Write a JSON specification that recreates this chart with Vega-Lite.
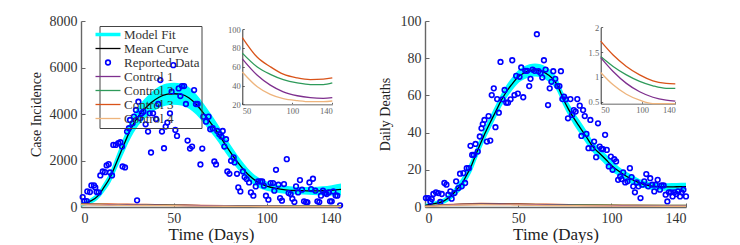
{
"$schema": "https://vega.github.io/schema/vega-lite/v6.json",
"background": "white",
"padding": {"left": 29, "top": 14, "right": 0, "bottom": 0},
"spacing": 32,
"config": {
  "font": "Liberation Serif",
  "view": {"stroke": null},
  "axis": {"grid": false, "labelFont": "Liberation Serif", "titleFont": "Liberation Serif", "labelFontSize": 14, "labelColor": "#333", "titleColor": "#222", "titleFontWeight": "normal", "domainColor": "#666", "domainWidth": 1.4, "tickColor": "#666", "tickSize": -4, "labelPadding": 8, "labelOverlap": false},
  "legend": {"orient": "none", "legendX": 18.5, "legendY": 5, "title": null, "labelFont": "Liberation Serif", "labelFontSize": 13, "labelColor": "#333", "symbolSize": 100, "symbolType": "M-2.5,0H2.5", "strokeColor": "#444", "padding": 2, "rowPadding": -3, "labelOffset": 9.5, "labelLimit": 300}
},
"resolve": {"scale": {"color": "independent"}},
"datasets": {
  "fitL": [
    {"day":0,"mean":100,"lo":20,"hi":180},{"day":5,"mean":250,"lo":130,"hi":370},{"day":9,"mean":470,"lo":320,"hi":620},{"day":12,"mean":800,"lo":600,"hi":1000},{"day":16,"mean":1320,"lo":1070,"hi":1570},{"day":18,"mean":1700,"lo":1420,"hi":1980},{"day":21,"mean":2280,"lo":1960,"hi":2600},{"day":24,"mean":2850,"lo":2500,"hi":3200},{"day":27,"mean":3380,"lo":3000,"hi":3760},{"day":30,"mean":3800,"lo":3400,"hi":4200},{"day":34,"mean":4200,"lo":3770,"hi":4630},{"day":38,"mean":4500,"lo":4050,"hi":4950},{"day":42,"mean":4720,"lo":4260,"hi":5180},{"day":46,"mean":4840,"lo":4370,"hi":5310},{"day":50,"mean":4870,"lo":4400,"hi":5340},{"day":54,"mean":4840,"lo":4370,"hi":5310},{"day":58,"mean":4700,"lo":4240,"hi":5160},{"day":62,"mean":4420,"lo":3980,"hi":4860},{"day":66,"mean":4030,"lo":3610,"hi":4450},{"day":70,"mean":3600,"lo":3200,"hi":4000},{"day":74,"mean":3150,"lo":2780,"hi":3520},{"day":78,"mean":2650,"lo":2310,"hi":2990},{"day":82,"mean":2180,"lo":1870,"hi":2490},{"day":86,"mean":1760,"lo":1480,"hi":2040},{"day":90,"mean":1400,"lo":1150,"hi":1650},{"day":95,"mean":1080,"lo":860,"hi":1300},{"day":100,"mean":900,"lo":700,"hi":1100},{"day":105,"mean":800,"lo":620,"hi":980},{"day":110,"mean":740,"lo":570,"hi":910},{"day":115,"mean":710,"lo":550,"hi":870},{"day":120,"mean":700,"lo":540,"hi":860},{"day":125,"mean":690,"lo":520,"hi":860},{"day":130,"mean":700,"lo":510,"hi":890},{"day":135,"mean":720,"lo":500,"hi":940},{"day":140,"mean":760,"lo":510,"hi":1010}
  ],
  "obsL": [
    {"day":0.9,"value":429},{"day":1.8,"value":257},{"day":3.1,"value":257},{"day":3.4,"value":672},{"day":4.8,"value":643},{"day":5.6,"value":929},{"day":7.0,"value":929},{"day":7.7,"value":843},{"day":8.4,"value":643},{"day":9.5,"value":629},{"day":10.4,"value":1358},{"day":11.7,"value":1529},{"day":12.9,"value":1500},{"day":13.8,"value":1786},{"day":14.9,"value":1843},{"day":15.6,"value":1486},{"day":16.7,"value":1358},{"day":17.4,"value":2672},{"day":18.7,"value":2672},{"day":20.1,"value":2744},{"day":21.2,"value":2787},{"day":22.1,"value":2601},{"day":22.4,"value":1743},{"day":23.7,"value":1700},{"day":24.8,"value":3244},{"day":25.8,"value":3387},{"day":26.4,"value":3744},{"day":27.8,"value":3601},{"day":28.5,"value":3887},{"day":29.6,"value":4173},{"day":30.2,"value":286},{"day":30.9,"value":4530},{"day":31.8,"value":3815},{"day":32.7,"value":4030},{"day":33.6,"value":4101},{"day":34.8,"value":3558},{"day":36.1,"value":3244},{"day":37.0,"value":4030},{"day":37.7,"value":2344},{"day":38.8,"value":4030},{"day":40.4,"value":3787},{"day":41.6,"value":4430},{"day":42.7,"value":5459},{"day":43.6,"value":3244},{"day":44.7,"value":2529},{"day":45.6,"value":3458},{"day":46.5,"value":3630},{"day":47.9,"value":4030},{"day":48.8,"value":4959},{"day":49.7,"value":6102},{"day":50.8,"value":3315},{"day":51.7,"value":3058},{"day":52.6,"value":5102},{"day":53.5,"value":4773},{"day":54.4,"value":5202},{"day":55.5,"value":5202},{"day":56.5,"value":4430},{"day":57.4,"value":2858},{"day":58.7,"value":2515},{"day":59.8,"value":2601},{"day":60.9,"value":5030},{"day":61.9,"value":4430},{"day":62.8,"value":4430},{"day":64.3,"value":1829},{"day":65.3,"value":2515},{"day":65.9,"value":3887},{"day":67.3,"value":3672},{"day":68.7,"value":3887},{"day":69.6,"value":3344},{"day":70.9,"value":3387},{"day":71.8,"value":1958},{"day":72.7,"value":1829},{"day":73.4,"value":3272},{"day":74.5,"value":3130},{"day":75.6,"value":3029},{"day":76.3,"value":3272},{"day":77.2,"value":2601},{"day":78.1,"value":2915},{"day":78.8,"value":1529},{"day":79.9,"value":1429},{"day":80.8,"value":1986},{"day":82.2,"value":2129},{"day":82.7,"value":1915},{"day":84.0,"value":1429},{"day":84.7,"value":843},{"day":85.8,"value":672},{"day":87.2,"value":1529},{"day":88.1,"value":1286},{"day":89.2,"value":1200},{"day":90.5,"value":1057},{"day":91.5,"value":629},{"day":92.8,"value":486},{"day":94.1,"value":886},{"day":95.3,"value":1100},{"day":96.6,"value":1100},{"day":97.6,"value":1100},{"day":98.5,"value":915},{"day":99.6,"value":486},{"day":100.9,"value":314},{"day":102.1,"value":1029},{"day":103.4,"value":1029},{"day":104.1,"value":700},{"day":105.0,"value":1600},{"day":106.3,"value":957},{"day":107.2,"value":386},{"day":108.2,"value":272},{"day":109.3,"value":986},{"day":110.8,"value":2058},{"day":111.8,"value":600},{"day":112.9,"value":557},{"day":113.8,"value":357},{"day":114.9,"value":214},{"day":115.8,"value":886},{"day":116.9,"value":629},{"day":117.9,"value":1157},{"day":119.0,"value":743},{"day":120.1,"value":243},{"day":121.2,"value":214},{"day":121.9,"value":200},{"day":123.0,"value":1057},{"day":123.9,"value":772},{"day":124.9,"value":1215},{"day":126.2,"value":700},{"day":127.3,"value":243},{"day":128.3,"value":214},{"day":129.2,"value":486},{"day":130.3,"value":700},{"day":131.4,"value":600},{"day":132.3,"value":557},{"day":133.4,"value":629},{"day":134.1,"value":243},{"day":135.0,"value":243},{"day":135.9,"value":672},{"day":137.1,"value":500},{"day":138.0,"value":486},{"day":139.5,"value":71}
  ],
  "ctrlL": [
    {"day":0,"value":140,"series":"Control 3"},{"day":10,"value":133,"series":"Control 3"},{"day":20,"value":123,"series":"Control 3"},{"day":30,"value":112,"series":"Control 3"},{"day":40,"value":101,"series":"Control 3"},{"day":50,"value":91,"series":"Control 3"},{"day":65,"value":70,"series":"Control 3"},{"day":78,"value":60,"series":"Control 3"},{"day":91,"value":52,"series":"Control 3"},{"day":105,"value":48,"series":"Control 3"},{"day":118,"value":46.3,"series":"Control 3"},{"day":131,"value":46.7,"series":"Control 3"},{"day":140,"value":48,"series":"Control 3"},
    {"day":0,"value":118,"series":"Control 2"},{"day":10,"value":108,"series":"Control 2"},{"day":20,"value":98,"series":"Control 2"},{"day":30,"value":89,"series":"Control 2"},{"day":40,"value":81,"series":"Control 2"},{"day":50,"value":74.4,"series":"Control 2"},{"day":65,"value":59.6,"series":"Control 2"},{"day":78,"value":51.9,"series":"Control 2"},{"day":91,"value":46.3,"series":"Control 2"},{"day":105,"value":42.8,"series":"Control 2"},{"day":118,"value":41,"series":"Control 2"},{"day":131,"value":41,"series":"Control 2"},{"day":140,"value":42.8,"series":"Control 2"},
    {"day":0,"value":112,"series":"Control 1"},{"day":10,"value":102,"series":"Control 1"},{"day":20,"value":92,"series":"Control 1"},{"day":30,"value":83,"series":"Control 1"},{"day":40,"value":75,"series":"Control 1"},{"day":50,"value":68.4,"series":"Control 1"},{"day":65,"value":50.9,"series":"Control 1"},{"day":78,"value":40.4,"series":"Control 1"},{"day":91,"value":33.3,"series":"Control 1"},{"day":105,"value":29.1,"series":"Control 1"},{"day":118,"value":27,"series":"Control 1"},{"day":131,"value":26.3,"series":"Control 1"},{"day":140,"value":27,"series":"Control 1"},
    {"day":0,"value":95,"series":"Control 4"},{"day":10,"value":86,"series":"Control 4"},{"day":20,"value":76,"series":"Control 4"},{"day":30,"value":67,"series":"Control 4"},{"day":40,"value":60,"series":"Control 4"},{"day":50,"value":54.4,"series":"Control 4"},{"day":65,"value":38.6,"series":"Control 4"},{"day":78,"value":30.5,"series":"Control 4"},{"day":91,"value":26,"series":"Control 4"},{"day":105,"value":23.9,"series":"Control 4"},{"day":118,"value":22.8,"series":"Control 4"},{"day":131,"value":22.8,"series":"Control 4"},{"day":140,"value":23.5,"series":"Control 4"}
  ],
  "fitR": [
    {"day":0,"mean":0.8,"lo":0,"hi":1.6},{"day":5,"mean":1.8,"lo":0.6,"hi":3.0},{"day":10,"mean":3.2,"lo":1.7,"hi":4.7},{"day":14,"mean":6,"lo":4,"hi":8},{"day":17,"mean":9.3,"lo":6.8,"hi":11.8},{"day":20,"mean":13,"lo":10,"hi":16},{"day":22,"mean":16.5,"lo":13.5,"hi":19.5},{"day":25,"mean":22.5,"lo":19,"hi":26},{"day":28,"mean":30,"lo":26.5,"hi":33.5},{"day":31,"mean":37,"lo":33.5,"hi":40.5},{"day":33,"mean":41.4,"lo":37.9,"hi":44.9},{"day":36,"mean":47.5,"lo":44,"hi":51},{"day":38,"mean":51.5,"lo":48,"hi":55},{"day":41,"mean":57.5,"lo":54,"hi":61},{"day":44,"mean":62.5,"lo":59,"hi":66},{"day":47,"mean":66.5,"lo":63,"hi":70},{"day":50,"mean":70,"lo":66.5,"hi":73.5},{"day":53,"mean":72,"lo":68.5,"hi":75.5},{"day":56,"mean":73.3,"lo":69.8,"hi":76.8},{"day":59,"mean":73.7,"lo":70.2,"hi":77.2},{"day":62,"mean":73.2,"lo":69.7,"hi":76.7},{"day":65,"mean":71.8,"lo":68.3,"hi":75.3},{"day":68,"mean":69.5,"lo":66,"hi":73},{"day":71,"mean":65.5,"lo":62,"hi":69},{"day":74,"mean":58.5,"lo":55,"hi":62},{"day":77,"mean":52.5,"lo":49,"hi":56},{"day":80,"mean":47.5,"lo":44,"hi":51},{"day":83,"mean":43,"lo":39.5,"hi":46.5},{"day":87,"mean":37,"lo":33.5,"hi":40.5},{"day":90,"mean":32.5,"lo":29.5,"hi":35.5},{"day":94,"mean":28.5,"lo":25.5,"hi":31.5},{"day":97,"mean":25.5,"lo":22.5,"hi":28.5},{"day":101,"mean":21.5,"lo":18.5,"hi":24.5},{"day":104,"mean":19.2,"lo":16.7,"hi":21.7},{"day":108,"mean":16.5,"lo":14,"hi":19},{"day":112,"mean":14.3,"lo":11.8,"hi":16.8},{"day":115,"mean":13,"lo":11,"hi":15},{"day":119,"mean":11.8,"lo":9.8,"hi":13.8},{"day":122,"mean":11.2,"lo":9.2,"hi":13.2},{"day":126,"mean":10.9,"lo":8.9,"hi":12.9},{"day":130,"mean":10.8,"lo":8.8,"hi":12.8},{"day":135,"mean":10.9,"lo":8.9,"hi":12.9},{"day":140,"mean":11,"lo":9,"hi":13}
  ],
  "obsR": [
    {"day":0.5,"value":4.8},{"day":1.8,"value":4.8},{"day":2.9,"value":3.0},{"day":3.6,"value":4.3},{"day":4.5,"value":7},{"day":5.9,"value":7.9},{"day":7.2,"value":7.5},{"day":8.2,"value":2.7},{"day":9,"value":7},{"day":10.4,"value":12.9},{"day":11.5,"value":12},{"day":12.5,"value":6.6},{"day":13.6,"value":8.4},{"day":14.3,"value":4.5},{"day":15.8,"value":7.5},{"day":16.7,"value":13.8},{"day":17.9,"value":10.2},{"day":18.8,"value":17.9},{"day":19.7,"value":11.1},{"day":20.6,"value":18.2},{"day":21.5,"value":12.9},{"day":22.4,"value":20.9},{"day":23.5,"value":20.9},{"day":24.4,"value":32.9},{"day":25.3,"value":28},{"day":26.2,"value":28},{"day":27.1,"value":33.9},{"day":28.3,"value":29.8},{"day":29.4,"value":37.9},{"day":30.3,"value":42.3},{"day":31,"value":44.6},{"day":31.9,"value":46.8},{"day":33.2,"value":35.2},{"day":34.1,"value":48.9},{"day":35,"value":35.7},{"day":35.8,"value":60.2},{"day":36.9,"value":63.8},{"day":37.8,"value":42.9},{"day":38.7,"value":58},{"day":39.6,"value":50.7},{"day":40.5,"value":78},{"day":41.6,"value":57.9},{"day":42.7,"value":62.9},{"day":43.6,"value":56.1},{"day":44.5,"value":56.1},{"day":45.9,"value":57.9},{"day":46.8,"value":78.9},{"day":48,"value":60.2},{"day":48.9,"value":70.5},{"day":49.8,"value":61},{"day":50.7,"value":70},{"day":51.6,"value":75},{"day":52.7,"value":59},{"day":53.8,"value":73.2},{"day":54.8,"value":73.2},{"day":55.9,"value":65},{"day":56.6,"value":68.9},{"day":57.7,"value":73.9},{"day":58.8,"value":73.2},{"day":60,"value":92.9},{"day":60.9,"value":73},{"day":62,"value":72.1},{"day":62.9,"value":69.6},{"day":63.8,"value":78.9},{"day":64.7,"value":73.9},{"day":66,"value":54.8},{"day":66.9,"value":63.8},{"day":67.8,"value":67.3},{"day":68.8,"value":73},{"day":69.9,"value":68.9},{"day":71,"value":65},{"day":72.1,"value":65},{"day":72.9,"value":73},{"day":73.7,"value":58},{"day":74.6,"value":59.3},{"day":75.6,"value":57.9},{"day":76.7,"value":47.7},{"day":78,"value":58},{"day":78.9,"value":49.5},{"day":79.8,"value":52.1},{"day":80.8,"value":51.3},{"day":81.7,"value":58},{"day":83,"value":54.5},{"day":83.9,"value":38.2},{"day":84.8,"value":52.1},{"day":85.7,"value":48.9},{"day":86.6,"value":39.3},{"day":87.7,"value":31.6},{"day":88.7,"value":46.8},{"day":89.8,"value":31.6},{"day":90.7,"value":35.2},{"day":91.8,"value":26.8},{"day":92.8,"value":45},{"day":93.7,"value":32.5},{"day":94.6,"value":31.3},{"day":95.5,"value":31.1},{"day":96.6,"value":38.8},{"day":97.5,"value":30.7},{"day":98.6,"value":21.8},{"day":99.7,"value":27.1},{"day":100.6,"value":20},{"day":101.5,"value":25.7},{"day":102.5,"value":24.5},{"day":103.6,"value":14.6},{"day":104.7,"value":16.4},{"day":105.4,"value":15},{"day":106.3,"value":18.6},{"day":107.4,"value":13.2},{"day":108.6,"value":13.8},{"day":109.9,"value":20.9},{"day":110.8,"value":16.1},{"day":111.7,"value":11.1},{"day":112.6,"value":7.9},{"day":113.6,"value":13.2},{"day":114.5,"value":11.1},{"day":115.6,"value":4.8},{"day":116.5,"value":12},{"day":117.6,"value":13.8},{"day":118.7,"value":17.7},{"day":119.7,"value":11.1},{"day":120.8,"value":15.5},{"day":121.9,"value":12},{"day":123,"value":8.4},{"day":123.7,"value":12},{"day":124.8,"value":14.6},{"day":126,"value":9.3},{"day":126.9,"value":11.6},{"day":128,"value":11.6},{"day":129.1,"value":6.6},{"day":130,"value":3},{"day":130.8,"value":7.9},{"day":131.9,"value":7.9},{"day":132.8,"value":5.7},{"day":133.7,"value":7.9},{"day":134.8,"value":7},{"day":135.7,"value":8.4},{"day":136.8,"value":5.7},{"day":137.7,"value":7.9},{"day":138.6,"value":9.3},{"day":140,"value":5.7}
  ],
  "ctrlR": [
    {"day":0,"value":0.4,"series":"Control 3"},{"day":10,"value":1.2,"series":"Control 3"},{"day":20,"value":1.7,"series":"Control 3"},{"day":30,"value":1.88,"series":"Control 3"},{"day":40,"value":1.84,"series":"Control 3"},{"day":50,"value":1.72,"series":"Control 3"},{"day":65,"value":1.44,"series":"Control 3"},{"day":81,"value":1.21,"series":"Control 3"},{"day":97,"value":1.04,"series":"Control 3"},{"day":113,"value":0.92,"series":"Control 3"},{"day":129,"value":0.87,"series":"Control 3"},{"day":140,"value":0.86,"series":"Control 3"},
    {"day":0,"value":0.35,"series":"Control 2"},{"day":10,"value":1.0,"series":"Control 2"},{"day":20,"value":1.38,"series":"Control 2"},{"day":30,"value":1.52,"series":"Control 2"},{"day":40,"value":1.49,"series":"Control 2"},{"day":50,"value":1.41,"series":"Control 2"},{"day":65,"value":1.21,"series":"Control 2"},{"day":81,"value":1.04,"series":"Control 2"},{"day":97,"value":0.91,"series":"Control 2"},{"day":113,"value":0.82,"series":"Control 2"},{"day":129,"value":0.77,"series":"Control 2"},{"day":140,"value":0.77,"series":"Control 2"},
    {"day":0,"value":0.35,"series":"Control 1"},{"day":10,"value":1.0,"series":"Control 1"},{"day":20,"value":1.37,"series":"Control 1"},{"day":30,"value":1.51,"series":"Control 1"},{"day":40,"value":1.48,"series":"Control 1"},{"day":50,"value":1.39,"series":"Control 1"},{"day":65,"value":1.11,"series":"Control 1"},{"day":81,"value":0.87,"series":"Control 1"},{"day":97,"value":0.70,"series":"Control 1"},{"day":113,"value":0.59,"series":"Control 1"},{"day":129,"value":0.53,"series":"Control 1"},{"day":140,"value":0.51,"series":"Control 1"},
    {"day":0,"value":0.27,"series":"Control 4"},{"day":10,"value":0.78,"series":"Control 4"},{"day":20,"value":1.07,"series":"Control 4"},{"day":30,"value":1.18,"series":"Control 4"},{"day":40,"value":1.16,"series":"Control 4"},{"day":50,"value":1.09,"series":"Control 4"},{"day":65,"value":0.84,"series":"Control 4"},{"day":81,"value":0.65,"series":"Control 4"},{"day":97,"value":0.53,"series":"Control 4"},{"day":113,"value":0.45,"series":"Control 4"},{"day":129,"value":0.42,"series":"Control 4"},{"day":140,"value":0.41,"series":"Control 4"}
  ]
},
"hconcat": [
  {
    "width": 260, "height": 186,
    "resolve": {"scale": {"x": "independent", "y": "independent"}, "axis": {"x": "independent", "y": "independent"}},
    "layer": [
      {
        "layer": [
          {
            "data": {"name": "fitL"},
            "mark": {"type": "area", "interpolate": "monotone", "opacity": 1},
            "encoding": {
              "x": {"field": "day", "type": "quantitative", "title": "Time (Days)", "scale": {"domain": [0, 140], "nice": false}, "axis": {"values": [0, 50, 100, 140], "titleFontSize": 17, "titlePadding": 1.5, "labelOverlap": false}},
              "y": {"field": "lo", "type": "quantitative", "title": "Case Incidence", "scale": {"domain": [0, 8000], "nice": false}, "axis": {"values": [0, 2000, 4000, 6000, 8000], "format": "d", "titleFontSize": 14, "titlePadding": 6, "labelOverlap": false}},
              "y2": {"field": "hi"},
              "color": {"datum": "Model Fit", "type": "nominal", "title": null,
                "scale": {"domain": ["Model Fit", "Mean Curve", "Reported Data", "Control 1", "Control 2", "Control 3", "Control 4"], "range": ["#00ffff", "#000000", "#0000ff", "#7e2f8e", "#2e9a5a", "#d95319", "#eeb47c"]},
                "legend": {"title": null, "encode": {"symbols": {"update": {
                    "shape": {"signal": "datum.value === 'Reported Data' ? 'circle' : 'M-2.5,0H2.5'"},
                    "size": {"signal": "datum.value === 'Reported Data' ? 22 : 100"},
                    "strokeWidth": {"signal": "datum.value === 'Model Fit' ? 3.5 : (datum.value === 'Reported Data' ? 1.6 : 1.3)"},
                    "fill": {"value": "transparent"}, "fillOpacity": {"value": 0},
                    "opacity": {"value": 1},
                    "stroke": {"signal": "{'Model Fit':'#00ffff','Mean Curve':'#333333','Reported Data':'#0000ff','Control 1':'#7e2f8e','Control 2':'#2e9a5a','Control 3':'#d95319','Control 4':'#eeb47c'}[datum.value]"}
                  }}}}
              }
            }
          },
          {
            "data": {"name": "fitL"},
            "mark": {"type": "line", "interpolate": "monotone", "strokeWidth": 1.3},
            "encoding": {
              "x": {"field": "day", "type": "quantitative", "title": "Time (Days)"},
              "y": {"field": "mean", "type": "quantitative", "title": "Case Incidence"},
              "color": {"datum": "Mean Curve", "type": "nominal", "title": null,
                "legend": {"title": null, "encode": {"symbols": {"update": {
                    "shape": {"signal": "datum.value === 'Reported Data' ? 'circle' : 'M-2.5,0H2.5'"},
                    "size": {"signal": "datum.value === 'Reported Data' ? 22 : 100"},
                    "strokeWidth": {"signal": "datum.value === 'Model Fit' ? 3.5 : (datum.value === 'Reported Data' ? 1.6 : 1.3)"},
                    "fill": {"value": "transparent"}, "fillOpacity": {"value": 0},
                    "opacity": {"value": 1},
                    "stroke": {"signal": "{'Model Fit':'#00ffff','Mean Curve':'#333333','Reported Data':'#0000ff','Control 1':'#7e2f8e','Control 2':'#2e9a5a','Control 3':'#d95319','Control 4':'#eeb47c'}[datum.value]"}
                  }}}}}
            }
          },
          {
            "data": {"name": "obsL"},
            "mark": {"type": "point", "filled": false, "size": 22, "strokeWidth": 1.6, "opacity": 1},
            "encoding": {
              "x": {"field": "day", "type": "quantitative", "title": "Time (Days)"},
              "y": {"field": "value", "type": "quantitative", "title": "Case Incidence"},
              "color": {"datum": "Reported Data", "type": "nominal", "title": null,
                "legend": {"title": null, "encode": {"symbols": {"update": {
                    "shape": {"signal": "datum.value === 'Reported Data' ? 'circle' : 'M-2.5,0H2.5'"},
                    "size": {"signal": "datum.value === 'Reported Data' ? 22 : 100"},
                    "strokeWidth": {"signal": "datum.value === 'Model Fit' ? 3.5 : (datum.value === 'Reported Data' ? 1.6 : 1.3)"},
                    "fill": {"value": "transparent"}, "fillOpacity": {"value": 0},
                    "opacity": {"value": 1},
                    "stroke": {"signal": "{'Model Fit':'#00ffff','Mean Curve':'#333333','Reported Data':'#0000ff','Control 1':'#7e2f8e','Control 2':'#2e9a5a','Control 3':'#d95319','Control 4':'#eeb47c'}[datum.value]"}
                  }}}}}
            }
          },
          {
            "data": {"name": "ctrlL"},
            "mark": {"type": "line", "interpolate": "monotone", "strokeWidth": 1.4},
            "encoding": {
              "x": {"field": "day", "type": "quantitative", "title": "Time (Days)"},
              "y": {"field": "value", "type": "quantitative", "title": "Case Incidence"},
              "color": {"field": "series", "type": "nominal", "title": null,
                "legend": {"title": null, "encode": {"symbols": {"update": {
                    "shape": {"signal": "datum.value === 'Reported Data' ? 'circle' : 'M-2.5,0H2.5'"},
                    "size": {"signal": "datum.value === 'Reported Data' ? 22 : 100"},
                    "strokeWidth": {"signal": "datum.value === 'Model Fit' ? 3.5 : (datum.value === 'Reported Data' ? 1.6 : 1.3)"},
                    "fill": {"value": "transparent"}, "fillOpacity": {"value": 0},
                    "opacity": {"value": 1},
                    "stroke": {"signal": "{'Model Fit':'#00ffff','Mean Curve':'#333333','Reported Data':'#0000ff','Control 1':'#7e2f8e','Control 2':'#2e9a5a','Control 3':'#d95319','Control 4':'#eeb47c'}[datum.value]"}
                  }}}}}
            }
          }
        ]
      },
      {
        "data": {"name": "ctrlL"},
        "transform": [{"filter": "datum.day >= 50"}],
        "mark": {"type": "line", "interpolate": "monotone", "strokeWidth": 1.3},
        "encoding": {
          "x": {"field": "day", "type": "quantitative", "scale": {"domain": [50, 140], "range": [161.3, 251.3], "nice": false}, "axis": {"orient": "bottom", "offset": -102.7, "title": null, "values": [50, 100, 140], "labelFontSize": 8.5, "labelColor": "#666", "tickSize": -2, "labelPadding": 4, "domainColor": "#999", "domainWidth": 1.5}},
          "y": {"field": "value", "type": "quantitative", "scale": {"domain": [20, 100], "range": [83.3, 8.1], "nice": false}, "axis": {"orient": "left", "offset": -161.3, "title": null, "values": [20, 40, 60, 80, 100], "labelFontSize": 8.5, "labelColor": "#666", "tickSize": -2, "labelPadding": 4, "domainColor": "#333", "domainWidth": 1}},
          "color": {"field": "series", "type": "nominal", "title": null,
            "legend": {"title": null, "encode": {"symbols": {"update": {
                "shape": {"signal": "datum.value === 'Reported Data' ? 'circle' : 'M-2.5,0H2.5'"},
                "size": {"signal": "datum.value === 'Reported Data' ? 22 : 100"},
                "strokeWidth": {"signal": "datum.value === 'Model Fit' ? 3.5 : (datum.value === 'Reported Data' ? 1.6 : 1.3)"},
                "fill": {"value": "transparent"}, "fillOpacity": {"value": 0},
                "opacity": {"value": 1},
                "stroke": {"signal": "{'Model Fit':'#00ffff','Mean Curve':'#333333','Reported Data':'#0000ff','Control 1':'#7e2f8e','Control 2':'#2e9a5a','Control 3':'#d95319','Control 4':'#eeb47c'}[datum.value]"}
              }}}}}
        }
      }
    ]
  },
  {
    "width": 261, "height": 186,
    "resolve": {"scale": {"x": "independent", "y": "independent"}, "axis": {"x": "independent", "y": "independent"}},
    "layer": [
      {
        "layer": [
          {
            "data": {"name": "fitR"},
            "mark": {"type": "area", "interpolate": "monotone", "opacity": 1},
            "encoding": {
              "x": {"field": "day", "type": "quantitative", "title": "Time (Days)", "scale": {"domain": [0, 140], "nice": false}, "axis": {"values": [0, 50, 100, 140], "titleFontSize": 17, "titlePadding": 1.5, "labelOverlap": false}},
              "y": {"field": "lo", "type": "quantitative", "title": "Daily Deaths", "scale": {"domain": [0, 100], "nice": false}, "axis": {"values": [0, 20, 40, 60, 80, 100], "tickCount": 6, "titleFontSize": 14, "titlePadding": 8, "labelOverlap": false}},
              "y2": {"field": "hi"},
              "color": {"datum": "Model Fit", "type": "nominal",
                "scale": {"domain": ["Model Fit", "Mean Curve", "Reported Data", "Control 1", "Control 2", "Control 3", "Control 4"], "range": ["#00ffff", "#000000", "#0000ff", "#7e2f8e", "#2e9a5a", "#d95319", "#eeb47c"]},
                "legend": null}
            }
          },
          {
            "data": {"name": "fitR"},
            "mark": {"type": "line", "interpolate": "monotone", "strokeWidth": 1.3},
            "encoding": {
              "x": {"field": "day", "type": "quantitative", "title": "Time (Days)"},
              "y": {"field": "mean", "type": "quantitative", "title": "Daily Deaths"},
              "color": {"datum": "Mean Curve", "type": "nominal", "legend": null}
            }
          },
          {
            "data": {"name": "obsR"},
            "mark": {"type": "point", "filled": false, "size": 22, "strokeWidth": 1.6, "opacity": 1},
            "encoding": {
              "x": {"field": "day", "type": "quantitative", "title": "Time (Days)"},
              "y": {"field": "value", "type": "quantitative", "title": "Daily Deaths"},
              "color": {"datum": "Reported Data", "type": "nominal", "legend": null}
            }
          },
          {
            "data": {"name": "ctrlR"},
            "mark": {"type": "line", "interpolate": "monotone", "strokeWidth": 1.4},
            "encoding": {
              "x": {"field": "day", "type": "quantitative", "title": "Time (Days)"},
              "y": {"field": "value", "type": "quantitative", "title": "Daily Deaths"},
              "color": {"field": "series", "type": "nominal", "legend": null}
            }
          }
        ]
      },
      {
        "data": {"name": "ctrlR"},
        "transform": [{"filter": "datum.day >= 50"}],
        "mark": {"type": "line", "interpolate": "monotone", "strokeWidth": 1.3},
        "encoding": {
          "x": {"field": "day", "type": "quantitative", "scale": {"domain": [50, 140], "range": [175.7, 250.3], "nice": false}, "axis": {"orient": "bottom", "offset": -103.3, "title": null, "values": [50, 100, 140], "labelFontSize": 8.5, "labelColor": "#666", "tickSize": -2, "labelPadding": 4, "domainColor": "#999", "domainWidth": 1.5}},
          "y": {"field": "value", "type": "quantitative", "scale": {"domain": [0.46, 2], "range": [82.7, 6.3], "nice": false, "clamp": true}, "axis": {"orient": "left", "offset": -175.7, "title": null, "values": [0.5, 1, 1.5, 2], "format": "~g", "labelFontSize": 8.5, "labelColor": "#666", "tickSize": -2, "labelPadding": 4, "domainColor": "#333", "domainWidth": 1}},
          "color": {"field": "series", "type": "nominal", "legend": null}
        }
      }
    ]
  }
]
}
